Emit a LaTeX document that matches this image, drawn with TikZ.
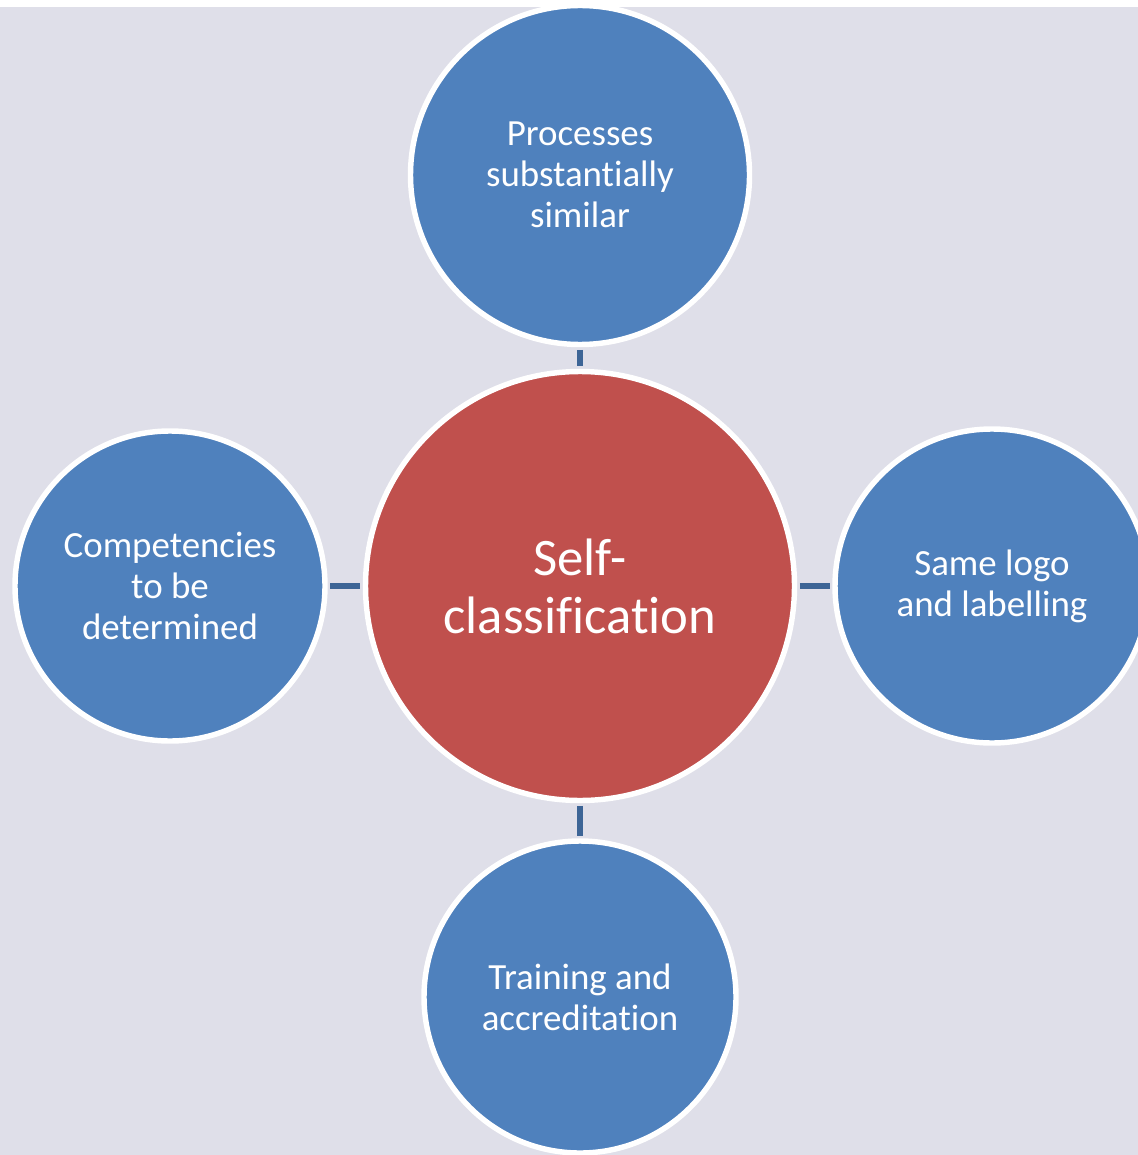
\documentclass[tikz,border=0pt]{standalone}
\usepackage{fontspec}
\setmainfont{Carlito}[Ligatures={NoCommon,NoRequired,NoContextual}]
\definecolor{bgc}{HTML}{DFDFE9}
\definecolor{bluec}{HTML}{4F81BD}
\definecolor{redc}{HTML}{C0504D}
\definecolor{linkc}{HTML}{3D6596}
\tikzset{
  px/.style={x=0.02cm,y=-0.02cm},
  bubble/.style={circle,draw=white,line width=3.1pt,fill=bluec,text=white,align=center,inner sep=0pt,
    font=\fontsize{21}{23.2}\selectfont},
  hub/.style={bubble,fill=redc,font=\fontsize{30}{33}\selectfont},
  link/.style={draw=linkc,line width=3.3pt,shorten <=1.5pt,shorten >=1.5pt}
}
\begin{document}
\begin{tikzpicture}[px]
\useasboundingbox (0,0) rectangle (1138,1155);
\clip (0,0) rectangle (1138,1155);
\fill[white] (0,0) rectangle (1138,1155);
\fill[bgc] (0,7) rectangle (1138,1155);
\node[hub,minimum size=429*0.02cm] (c) at (580,586) {Self-\\classification};
\node[bubble,minimum size=339*0.02cm] (t) at (580,175) {Processes\\substantially\\similar};
\node[bubble,minimum size=310*0.02cm] (l) at (170,586) {Competencies\\to be\\determined};
\node[bubble,minimum size=314*0.02cm] (r) at (992,586) {Same logo\\and labelling};
\node[bubble,minimum size=312*0.02cm] (b) at (580,997) {Training and\\accreditation};
\draw[link] (t.south) -- (c.north);
\draw[link] (l.east) -- (c.west);
\draw[link] (c.east) -- (r.west);
\draw[link] (c.south) -- (b.north);
\end{tikzpicture}
\end{document}
